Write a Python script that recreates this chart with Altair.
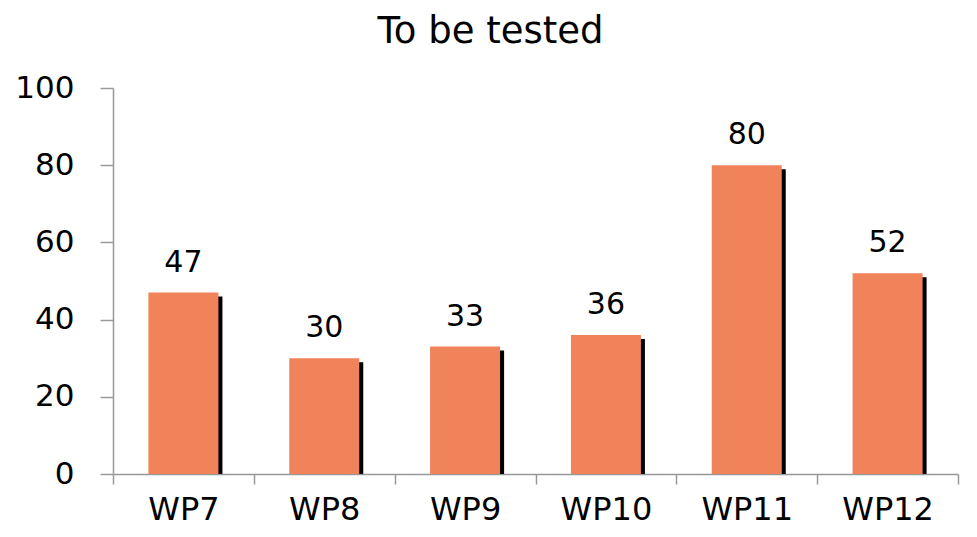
import altair as alt
import pandas as pd

categories = ["WP7", "WP8", "WP9", "WP10", "WP11", "WP12"]
values = [47, 30, 33, 36, 80, 52]

df = pd.DataFrame({"cat": categories, "val": values})

FONT = "DejaVu Sans"

x = alt.X("cat:N", sort=categories, title=None,
          scale=alt.Scale(paddingInner=0, paddingOuter=0),
          axis=alt.Axis(labelAngle=0, labelFontSize=32, labelFont=FONT, labelColor="black",
                        tickBand="extent", tickSize=10, tickColor="#999999",
                        domainColor="#999999", labelPadding=10, domainWidth=1.5, tickWidth=1.5))
y = alt.Y("val:Q", title=None,
          scale=alt.Scale(domain=[0, 100], nice=False),
          axis=alt.Axis(values=[0, 20, 40, 60, 80, 100], grid=False, labelFontSize=31,
                        labelFont=FONT, labelColor="black", tickSize=13, tickColor="#999999",
                        domainColor="#999999", labelPadding=26, domainWidth=1.5, tickWidth=1.5))

base = alt.Chart(df)

shadow = base.mark_bar(color="black", size=70, xOffset=4, yOffset=4, clip=True).encode(x=x, y=y)
bars = base.mark_bar(color="#F0835A", size=70).encode(x=x, y=y)
text = base.mark_text(dy=-30, fontSize=30, font=FONT, color="black").encode(
    x=x, y=y, text="val:Q")

chart = (shadow + bars + text).properties(
    width=845, height=386,
    title=alt.TitleParams("To be tested", fontSize=37, font=FONT, fontWeight="normal",
                          color="black", anchor="middle", offset=21, dx=-45),
    autosize=alt.AutoSizeParams(type="none"),
    padding={"left": 105, "top": 80, "right": 10, "bottom": 55},
).configure_view(stroke=None)

chart.save("out.html", embed_options={"renderer": "svg", "actions": False})
